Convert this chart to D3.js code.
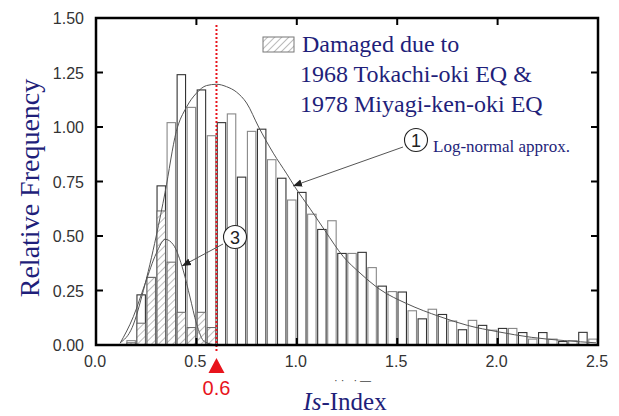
<!DOCTYPE html>
<html lang="en">
<head>
<meta charset="UTF-8">
<title>Is-Index histogram</title>
<script src="https://d3js.org/d3.v7.min.js"></script>
<style>
  body { margin: 0; background: #fff; }
  .tick-lbl { font-family: "Liberation Sans", Arial, sans-serif; font-size: 16px; fill: #333; }
  .serif { font-family: "Liberation Serif", "Times New Roman", serif; fill: #1f1f7a; }
</style>
</head>
<body>
<svg id="chart" width="619" height="416"></svg>
<script>
// bin left edges (width 0.05)
var binStart = [0.15, 0.20, 0.25, 0.30, 0.35, 0.40, 0.45, 0.50, 0.55, 0.60,
                0.65, 0.70, 0.75, 0.80, 0.85, 0.90, 0.95, 1.00, 1.05, 1.10,
                1.15, 1.20, 1.25, 1.30, 1.35, 1.40, 1.45, 1.50, 1.55, 1.60,
                1.65, 1.70, 1.75, 1.80, 1.85, 1.90, 1.95, 2.00, 2.05, 2.10,
                2.15, 2.20, 2.25, 2.30, 2.35, 2.40, 2.45];
// all buildings
var allFreq = [0.02, 0.23, 0.31, 0.73, 1.02, 1.24, 1.09, 1.17, 0.96, 1.02,
               1.06, 0.77, 0.98, 0.99, 0.85, 0.765, 0.665, 0.70, 0.60, 0.53,
               0.57, 0.42, 0.42, 0.425, 0.355, 0.27, 0.245, 0.243, 0.157, 0.12,
               0.164, 0.14, 0.11, 0.07, 0.113, 0.09, 0.068, 0.076, 0.076, 0.057,
               0.027, 0.057, 0.027, 0.016, 0.02, 0.058, 0.027];
// damaged buildings (hatched)
var damStart = [0.15, 0.20, 0.25, 0.30, 0.35, 0.40, 0.45, 0.50, 0.55];
var damFreq  = [0.01, 0.10, 0.31, 0.615, 0.38, 0.15, 0.08, 0.15, 0.08];

// curve 1: log-normal approx of all data
var curve1X = [0.12, 0.18, 0.236, 0.30, 0.344, 0.40, 0.45, 0.50, 0.55, 0.60, 0.65, 0.70, 0.75, 0.81, 0.883, 0.95, 0.99,
               1.07, 1.14, 1.232, 1.315, 1.414, 1.547, 1.713, 1.85, 2.0, 2.17, 2.335, 2.49];
var curve1Y = [0.01, 0.08, 0.25, 0.50, 0.70, 0.98, 1.09, 1.155, 1.19, 1.196, 1.185, 1.16, 1.11, 1.0, 0.88, 0.785, 0.726,
               0.62, 0.525, 0.405, 0.33, 0.255, 0.19, 0.13, 0.09, 0.061, 0.035, 0.02, 0.01];
// curve 3: log-normal approx of damaged data
var curve3X = [0.12, 0.186, 0.244, 0.30, 0.345, 0.385, 0.435, 0.468, 0.50, 0.54, 0.60];
var curve3Y = [0.008, 0.13, 0.28, 0.42, 0.485, 0.46, 0.34, 0.22, 0.10, 0.015, 0.0];

var xTicks = [0.0, 0.5, 1.0, 1.5, 2.0, 2.5];
var yTicks = [0.00, 0.25, 0.50, 0.75, 1.00, 1.25, 1.50];
var threshold = 0.6;
var binW = 0.05;

var svg = d3.select("#chart");
var L = 96, R = 598, T = 18, B = 345;
var x = d3.scaleLinear().domain([0, 2.5]).range([L, R]);
var y = d3.scaleLinear().domain([0, 1.5]).range([B, T]);

var defs = svg.append("defs");
var pat = defs.append("pattern")
    .attr("id", "hatch")
    .attr("patternUnits", "userSpaceOnUse")
    .attr("width", 5).attr("height", 5)
    .attr("patternTransform", "rotate(45)");
pat.append("rect").attr("width", 5).attr("height", 5).attr("fill", "#fff");
pat.append("line").attr("x1", 0).attr("y1", 0).attr("x2", 0).attr("y2", 5)
    .attr("stroke", "#777").attr("stroke-width", 1);

var bw = x(binW) - x(0);

// all bars (slightly inset so neighbours show a double edge)
svg.append("g").selectAll("rect")
    .data(binStart)
    .join("rect")
    .attr("x", d => x(d) + 0.8)
    .attr("width", bw - 1.6)
    .attr("y", (d, i) => y(allFreq[i]))
    .attr("height", (d, i) => y(0) - y(allFreq[i]))
    .attr("fill", "#fff")
    .attr("stroke", (d, i) => i % 2 ? "#333" : "#888")
    .attr("stroke-width", 1.1);

// damaged bars
svg.append("g").selectAll("rect")
    .data(damStart)
    .join("rect")
    .attr("x", d => x(d) + 0.8)
    .attr("width", bw - 1.6)
    .attr("y", (d, i) => y(damFreq[i]))
    .attr("height", (d, i) => y(0) - y(damFreq[i]))
    .attr("fill", "url(#hatch)")
    .attr("stroke", "#666")
    .attr("stroke-width", 1);

// fitted curves
var line = d3.line().x(d => x(d[0])).y(d => y(d[1])).curve(d3.curveMonotoneX);
svg.append("path")
    .attr("d", line(d3.zip(curve1X, curve1Y)))
    .attr("fill", "none").attr("stroke", "#555").attr("stroke-width", 1);
svg.append("path")
    .attr("d", line(d3.zip(curve3X, curve3Y)))
    .attr("fill", "none").attr("stroke", "#555").attr("stroke-width", 1);

// threshold line
svg.append("line")
    .attr("x1", x(threshold)).attr("x2", x(threshold))
    .attr("y1", 25).attr("y2", 351)
    .attr("stroke", "#e8141c").attr("stroke-width", 2)
    .attr("stroke-dasharray", "2,2");

// frame and ticks
svg.append("rect")
    .attr("x", L).attr("y", T).attr("width", R - L).attr("height", B - T)
    .attr("fill", "none").attr("stroke", "#000").attr("stroke-width", 2.5);

var tk = svg.append("g").attr("stroke", "#000").attr("stroke-width", 2);
xTicks.slice(1, -1).forEach(function (v) {
    tk.append("line").attr("x1", x(v)).attr("x2", x(v)).attr("y1", B).attr("y2", B - 7);
    tk.append("line").attr("x1", x(v)).attr("x2", x(v)).attr("y1", T).attr("y2", T + 7);
});
yTicks.slice(1, -1).forEach(function (v) {
    tk.append("line").attr("x1", L).attr("x2", L + 7).attr("y1", y(v)).attr("y2", y(v));
    tk.append("line").attr("x1", R).attr("x2", R - 7).attr("y1", y(v)).attr("y2", y(v));
});

svg.append("g").selectAll("text")
    .data(yTicks)
    .join("text")
    .attr("class", "tick-lbl")
    .attr("x", 84).attr("y", d => y(d) + 6)
    .attr("text-anchor", "end")
    .text(d => d.toFixed(2));

svg.append("g").selectAll("text")
    .data(xTicks)
    .join("text")
    .attr("class", "tick-lbl")
    .attr("x", d => x(d) - 1).attr("y", 367)
    .attr("text-anchor", "middle")
    .text(d => d.toFixed(1));

// threshold marker
var tx = x(threshold);
svg.append("path")
    .attr("d", "M" + tx + ",358 L" + (tx - 8) + ",373 L" + (tx + 8) + ",373 Z")
    .attr("fill", "#e8141c");
svg.append("text")
    .attr("class", "tick-lbl")
    .attr("x", tx).attr("y", 395)
    .attr("text-anchor", "middle")
    .style("fill", "#e8141c")
    .style("font-size", "20px")
    .text("0.6");

// leftover marks under the axis in the source figure
svg.append("text")
    .attr("x", 334).attr("y", 384)
    .style("font-family", "Liberation Sans, Arial, sans-serif")
    .style("font-size", "11px").style("fill", "#444")
    .style("letter-spacing", "3px")
    .text("··  ·—");

// axis titles
svg.append("text")
    .attr("class", "serif")
    .attr("transform", "translate(39,188) rotate(-90)")
    .attr("text-anchor", "middle")
    .style("font-size", "28px")
    .text("Relative Frequency");

var xt = svg.append("text")
    .attr("class", "serif")
    .attr("x", 345).attr("y", 410)
    .attr("text-anchor", "middle")
    .style("font-size", "25px");
xt.append("tspan").style("font-style", "italic").text("Is");
xt.append("tspan").text("-Index");

// legend
svg.append("rect")
    .attr("x", 263).attr("y", 37).attr("width", 31).attr("height", 15)
    .attr("fill", "url(#hatch)").attr("stroke", "#777").attr("stroke-width", 1);
var legLines = ["Damaged due to", "1968 Tokachi-oki EQ &", "1978 Miyagi-ken-oki EQ"];
svg.append("g").selectAll("text")
    .data(legLines)
    .join("text")
    .attr("class", "serif")
    .attr("x", (d, i) => i === 0 ? 302 : 300)
    .attr("y", (d, i) => 52 + i * 30)
    .style("font-size", "24px")
    .text(d => d);

// annotation markers with arrows
defs.append("marker")
    .attr("id", "arr")
    .attr("viewBox", "0 0 10 10")
    .attr("refX", 10).attr("refY", 5)
    .attr("markerWidth", 9).attr("markerHeight", 9)
    .attr("markerUnits", "userSpaceOnUse")
    .attr("orient", "auto")
    .append("path").attr("d", "M0,1 L10,5 L0,9 Z").attr("fill", "#222");

function circled(cx, cy, label) {
    svg.append("circle").attr("cx", cx).attr("cy", cy).attr("r", 11.5)
        .attr("fill", "#fff").attr("stroke", "#222").attr("stroke-width", 1.1);
    svg.append("text")
        .attr("x", cx).attr("y", cy + 6.5)
        .attr("text-anchor", "middle")
        .style("font-family", "Liberation Sans, Arial, sans-serif")
        .style("font-size", "18px").style("fill", "#222")
        .text(label);
}

svg.append("line")
    .attr("x1", 403).attr("y1", 147).attr("x2", 293).attr("y2", 186)
    .attr("stroke", "#555").attr("stroke-width", 1)
    .attr("marker-end", "url(#arr)");
circled(416, 140, "1");
svg.append("text")
    .attr("class", "serif")
    .attr("x", 433).attr("y", 152)
    .style("font-size", "17px")
    .text("Log-normal approx.");

svg.append("line")
    .attr("x1", 223).attr("y1", 244).attr("x2", 182).attr("y2", 266)
    .attr("stroke", "#555").attr("stroke-width", 1)
    .attr("marker-end", "url(#arr)");
circled(235, 237, "3");
</script>
</body>
</html>
